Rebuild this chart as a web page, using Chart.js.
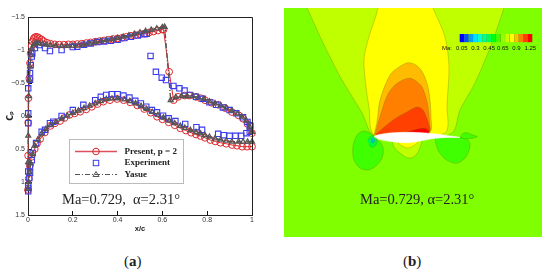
<!DOCTYPE html>
<html><head><meta charset="utf-8">
<script src="https://cdn.jsdelivr.net/npm/chart.js@4/dist/chart.umd.min.js"></script>
<style>
html,body{margin:0;padding:0;background:#fff;width:550px;height:276px;overflow:hidden}
canvas{position:absolute;display:block;filter:blur(.35px)}
.t{position:absolute;white-space:pre;font-family:"Liberation Serif",serif;color:#222;line-height:1}
</style></head><body>
<canvas id="cp" width="275" height="233" style="left:0;top:0;width:275px;height:233px"></canvas>
<canvas id="field" width="258" height="229" style="left:284px;top:8px;width:258px;height:229px;background:#80ff00"></canvas>
<canvas id="bar" width="100" height="28" style="left:440px;top:30px;width:100px;height:28px"></canvas>
<div class="t" style="left:62px;top:192px;font-size:14.5px">Ma=0.729,  α=2.31°</div>
<div class="t" style="left:360px;top:192px;font-size:14.5px">Ma=0.729, α=2.31°</div>
<div class="t" style="left:124px;top:254px;font-size:15px">(<b>a</b>)</div>
<div class="t" style="left:403px;top:254px;font-size:15px">(<b>b</b>)</div>
<div class="t" style="left:442px;top:45px;font:6px 'Liberation Sans',sans-serif;color:#111">Ma:</div>
<script>
// Cp distribution, pairs of x/c and Cp (lower surface TE -> LE -> upper surface TE)
const presentPts = [[1,.465],[.978,.465],[.956,.465],[.933,.45],[.911,.44],[.885,.42],[.859,.405],[.836,.385],[.814,.364],[.79,.33],[.77,.303],[.75,.28],[.728,.253],[.705,.22],[.68,.186],[.655,.14],[.628,.095],[.6,.05],[.576,.011],[.548,-.05],[.519,-.106],[.488,-.16],[.456,-.208],[.427,-.24],[.397,-.258],[.366,-.24],[.336,-.217],[.31,-.18],[.285,-.14],[.26,-.1],[.233,-.065],[.208,-.04],[.185,-.015],[.163,.03],[.143,.076],[.12,.11],[.1,.15],[.075,.25],[.054,.35],[.04,.42],[.03,.5],[.015,.62],[.008,.75],[.003,.95],[0,1.12],
[.0005,.6],[.001,.1],[.002,-.27],[.006,-.57],[.009,-.8],[.012,-.95],[.016,-1.06],[.02,-1.13],[.025,-1.17],[.03,-1.19],[.036,-1.2],[.043,-1.195],[.05,-1.18],[.06,-1.16],[.07,-1.135],[.085,-1.11],[.1,-1.095],[.12,-1.085],[.14,-1.08],[.16,-1.08],[.18,-1.085],[.2,-1.085],[.22,-1.09],[.24,-1.095],[.26,-1.105],[.28,-1.115],[.3,-1.125],[.32,-1.135],[.34,-1.145],[.36,-1.155],[.38,-1.165],[.4,-1.175],[.42,-1.185],[.44,-1.2],[.46,-1.215],[.48,-1.225],[.5,-1.24],[.52,-1.25],[.54,-1.265],[.56,-1.28],[.58,-1.295],[.6,-1.31],[.605,-1.31],[.63,-.67],[.65,-.24],[.67,-.29],[.7,-.31],[.72,-.31],[.75,-.29],[.77,-.27],[.79,-.24],[.82,-.2],[.85,-.17],[.88,-.12],[.91,-.06],[.94,-.01],[.96,.04],[.98,.12],[1,.26]];
const experimentPts = [[.993,.15],[.99,.24],[.975,.26],[.952,.3],[.926,.3],[.9,.3],[.874,.29],[.849,.27],[.777,.21],[.752,.17],[.702,.12],[.658,.076],[.628,.035],[.603,-.005],[.576,-.056],[.553,-.09],[.528,-.14],[.504,-.19],[.479,-.23],[.453,-.28],[.426,-.31],[.4,-.33],[.374,-.33],[.349,-.32],[.325,-.29],[.3,-.24],[.247,-.17],[.2,-.09],[.15,0],[.113,.086],[.098,.11],[.076,.21],[.061,.24],[.036,.41],[.021,.56],[.017,.67],[.009,.77],[.009,.86],[.006,.94],[.001,1.05],[.001,1.09],[.001,1.14],
[.001,.84],[.001,.11],[.001,-.04],[.001,-.42],[.009,-.55],[.009,-.65],[.012,-.77],[.017,-.9],[.019,-.95],[.031,-1.03],[.05,-1.075],[.076,-1.03],[.098,-.985],[.15,-1],[.2,-1.045],[.22,-1.05],[.25,-1.08],[.28,-1.1],[.31,-1.12],[.34,-1.13],[.37,-1.14],[.4,-1.155],[.43,-1.18],[.46,-1.2],[.49,-1.22],[.52,-1.24],[.53,-1.245],[.547,-.91],[.571,-.67],[.597,-.58],[.616,-.545],[.649,-.455],[.676,-.42],[.699,-.385],[.724,-.32],[.75,-.29],[.78,-.26],[.81,-.21],[.84,-.17],[.87,-.13],[.9,-.09],[.93,-.04],[.96,.02],[.98,.09],[.99,.14]];
const yasuePts = [[1,.39],[.98,.39],[.96,.39],[.94,.39],[.91,.39],[.885,.375],[.86,.36],[.835,.34],[.81,.315],[.79,.29],[.77,.265],[.75,.245],[.725,.215],[.7,.18],[.68,.15],[.655,.11],[.63,.07],[.605,.025],[.58,-.015],[.555,-.06],[.53,-.105],[.505,-.15],[.48,-.19],[.455,-.225],[.43,-.25],[.4,-.265],[.375,-.265],[.35,-.255],[.325,-.225],[.3,-.19],[.275,-.155],[.25,-.12],[.225,-.08],[.2,-.045],[.175,-.005],[.15,.04],[.125,.09],[.1,.14],[.08,.2],[.06,.27],[.045,.36],[.03,.45],[.02,.58],[.012,.72],[.007,.85],[.003,1],[0,1.1],
[.0005,.7],[.001,.3],[.002,0],[.003,-.3],[.006,-.55],[.009,-.75],[.013,-.92],[.018,-1.02],[.024,-1.07],[.03,-1.09],[.04,-1.105],[.05,-1.1],[.065,-1.09],[.08,-1.08],[.1,-1.075],[.125,-1.065],[.15,-1.06],[.175,-1.06],[.2,-1.065],[.225,-1.07],[.25,-1.08],[.275,-1.1],[.3,-1.12],[.325,-1.135],[.35,-1.15],[.375,-1.165],[.4,-1.18],[.425,-1.2],[.45,-1.22],[.475,-1.245],[.5,-1.265],[.525,-1.285],[.55,-1.305],[.575,-1.325],[.6,-1.345],[.61,-1.35],[.637,-.24],[.66,-.285],[.685,-.3],[.71,-.3],[.735,-.3],[.76,-.28],[.785,-.26],[.81,-.22],[.835,-.19],[.86,-.16],[.885,-.125],[.91,-.08],[.935,-.035],[.955,.01],[.975,.07],[.99,.17],[1,.24]];
const xTickLabels = [0,0.2,0.4,0.6,0.8,1];
const yTickLabels = ['\u22121.5','\u22121','\u22120.5','0','0.5','1','1.5'];
const legendLabels = ['Present, p = 2','Experiment','Yasue'];

// Mach contours, outlines, in field units with the leading edge at the origin
const limeOuter = [[-70,135],[-67,129],[-49,90],[-32,57],[-12,24],[0,1],[40,-3],[78,4],[86,27],[101,54],[118,94],[130,129],[132,135]];
const yellowTop = [[2,135],[4,129],[-6,97],[-10,77],[-8,50],[-5,30],[0,2],[40,-3],[71,4],[74,12],[73,30],[75,70],[71,100],[59,129],[57,135]];
const goldTop = [[0,2],[3,15],[6,37],[16,62],[25,70],[34,74.3],[42,72],[49,64],[54,50],[56,37],[57,20],[56,5],[30,-2]];
const orangeTop = [[1,3],[9,30],[14,43],[21,52],[29,57],[36,58.7],[42,56],[48,50],[52,39],[54,30],[55.5,15],[55.3,5],[30,-2]];
const redOrangeTop = [[1,2],[19,17],[33,25],[43,30],[49,27],[54,15],[55,5],[30,-2]];
const redTop = [[25,3],[40,7],[49,8.7],[54,7],[55,3],[40,1]];
const limeBelow = [[18,-3],[20,-10],[26,-16],[34,-21],[41,-19],[46,-11],[48,-3]];
const yellowBelow = [[22,-4],[28,-9],[34,-11],[41,-8],[46,-3]];
const greenLeft = [[1,0],[-4,4],[-10,6],[-16,3],[-20,-5],[-21.3,-13],[-20,-23],[-14,-31],[-6,-33],[2,-29],[8,-21],[9.3,-13],[7,-6],[2,-2]];
const greenInner = [[-6.3,-3],[-4,0],[-1.7,1.3],[1.5,0],[3,-4.7],[1.5,-8.5],[-1.7,-10.3],[-5,-8]];
const cyanCore = [[-3.5,-3],[-1.5,-1],[.5,-2],[1,-4],[-1,-6],[-3,-5]];
const greenRight = [[61,-1],[62,-7],[64,-13],[70,-21],[76,-24.7],[83,-26.3],[90,-22],[94,-16],[96,-8],[93,-2],[85,-.5],[72,-.5]];
const greenTail = [[87,2],[90,4],[93,4.3],[97,2.5],[103.3,.3],[96,-1.5],[90,-1.5],[86,0]];
const airfoil = [[0,0],[2,1.5],[6,2.5],[16,4],[34,4.7],[51,4],[66,2.5],[76,1],[86,-.5],[71,-.5],[56,-2],[46,-4],[34,-5.7],[21,-5],[11,-3.5],[4,-2]];

// colour legend
const levelColors = ['#0000ff','#0050ff','#00a0ff','#00e0ff','#00ffd0','#00ff90','#00ff50','#00ff10','#40ff00','#90ff00','#d0ff00','#ffff00','#ffc000','#ff8000','#ff4000','#ff0000'];
const levelLabels = ['0.05','','','0.3','','','0.45','','','0.65','','','0.9','','','1.25'];
const levelHeights = levelColors.map(()=>1);

const toXY = a => a.map(p=>({x:p[0],y:p[1]}));
const RED='#e0262c', BLUE='#3a3aee', GRAY='#555';

const cpLegend = {
  id:'cpLegend',
  afterDraw(c){
    const a=c.chartArea, x=c.ctx, L=69.5,T=139.5,W=114,H=44;
    x.save();
    x.strokeStyle='#222';x.lineWidth=1;x.beginPath();x.moveTo(a.left,a.top+.5);x.lineTo(a.right+.5,a.top+.5);x.lineTo(a.right+.5,a.bottom);x.stroke();
    x.fillStyle='#fff';x.fillRect(L,T,W,H);
    x.strokeStyle='#bbb';x.lineWidth=1;x.strokeRect(L,T,W,H);
    const rows=[151.5,163,174.5];
    x.strokeStyle='#e0505a';x.lineWidth=1.5;
    x.beginPath();x.moveTo(75,rows[0]);x.lineTo(117,rows[0]);x.stroke();
    x.strokeStyle=RED;x.lineWidth=1;x.beginPath();x.arc(96,rows[0],3.3,0,7);x.stroke();
    x.strokeStyle=BLUE;x.strokeRect(93.3,rows[1]-2.7,5.4,5.4);
    x.strokeStyle=GRAY;x.setLineDash([5,2,1,2]);
    x.beginPath();x.moveTo(75,rows[2]);x.lineTo(117,rows[2]);x.stroke();
    x.setLineDash([]);
    x.beginPath();x.moveTo(96,rows[2]-3);x.lineTo(99,rows[2]+2);x.lineTo(93,rows[2]+2);x.closePath();x.stroke();
    x.fillStyle='#222';x.font='bold 9px "Liberation Serif",serif';x.textBaseline='middle';
    legendLabels.forEach((t,i)=>x.fillText(t,124.5,rows[i]));
    x.restore();
  }
};

new Chart(document.getElementById('cp'),{
  type:'scatter',
  plugins:[cpLegend],
  data:{datasets:[
    {label:legendLabels[2],data:toXY(yasuePts),showLine:true,order:1,clip:false,borderColor:GRAY,borderWidth:1.4,borderDash:[5,2,1,2],pointStyle:'triangle',pointRadius:2.8,pointBorderColor:GRAY,pointBackgroundColor:'rgba(0,0,0,0)',pointBorderWidth:1.3},
    {label:legendLabels[1],data:toXY(experimentPts),showLine:false,order:2,clip:false,pointStyle:'rect',pointRadius:3.8,pointBorderColor:BLUE,pointBackgroundColor:'rgba(0,0,0,0)',pointBorderWidth:1.1},
    {label:legendLabels[0],data:toXY(presentPts),showLine:true,order:3,clip:false,borderColor:RED,borderWidth:1,pointStyle:'circle',pointRadius:3.4,pointBorderColor:RED,pointBackgroundColor:'rgba(0,0,0,0)',pointBorderWidth:1}
  ]},
  options:{
    responsive:false,animation:false,
    layout:{padding:{left:6,top:17,right:23,bottom:0}},
    plugins:{legend:{display:false},tooltip:{enabled:false}},
    scales:{
      x:{type:'linear',min:0,max:1,
        afterBuildTicks(s){s.ticks=xTickLabels.map(v=>({value:v}));},
        afterFit(s){s.height=18;},
        grid:{drawOnChartArea:false,drawTicks:true,tickLength:-4,color:'#111',lineWidth:1},
        border:{display:true,color:'#222',width:1},
        ticks:{padding:5,maxRotation:0,autoSkip:false,color:'#333',font:{family:'"Liberation Sans",sans-serif',size:7},callback:v=>String(v)},
        title:{display:true,text:'x/c',color:'#222',padding:0,font:{family:'"Liberation Sans",sans-serif',size:7.5,weight:'bold'}}
      },
      y:{type:'linear',min:-1.5,max:1.5,reverse:true,
        afterBuildTicks(s){s.ticks=yTickLabels.map((l,i)=>({value:-1.5+i*.5,label:l}));},
        afterFit(s){s.width=22;},
        grid:{drawOnChartArea:false,drawTicks:true,tickLength:-4,color:'#111',lineWidth:1},
        border:{display:true,color:'#222',width:1},
        ticks:{padding:7,autoSkip:false,color:'#333',font:{family:'"Liberation Sans",sans-serif',size:7},callback:(v,i)=>yTickLabels[i]},
        title:{display:true,text:'C\u209A',color:'#222',padding:0,font:{family:'"DejaVu Sans",sans-serif',size:8,weight:'bold'}}
      }
    }
  }
});

const layers=[
  [limeOuter,'#bfff00'],[yellowTop,'#ffff00'],[goldTop,'#ffbb00'],[orangeTop,'#ff8000'],[redOrangeTop,'#ff4000'],[redTop,'#ff0000'],
  [limeBelow,'#bfff00'],[yellowBelow,'#ffff00'],[greenLeft,'#40ff00'],[greenInner,'#00ff40'],[cyanCore,'#00c8d0'],[greenRight,'#40ff00'],[greenTail,'#40ff00'],[airfoil,'#ffffff']
];
new Chart(document.getElementById('field'),{
  type:'scatter',
  data:{datasets:layers.map((l,i)=>({
    data:toXY(l[0]),showLine:true,fill:'shape',tension:.3,order:layers.length-i,
    backgroundColor:l[1],borderColor:l[1]==='#ffffff'?'#ffffff':'rgba(90,100,0,.45)',borderWidth:.6,pointRadius:0
  }))},
  options:{responsive:false,animation:false,layout:{padding:0},
    plugins:{legend:{display:false},tooltip:{enabled:false}},
    scales:{x:{type:'linear',display:false,min:-90,max:168},y:{type:'linear',display:false,min:-100,max:129}}}
});

new Chart(document.getElementById('bar'),{
  type:'bar',
  data:{labels:levelLabels,datasets:[{data:levelHeights,backgroundColor:levelColors,borderColor:'rgba(40,40,40,.35)',borderWidth:.4,barPercentage:1,categoryPercentage:1}]},
  options:{responsive:false,animation:false,layout:{padding:{left:19.5,right:7.5,top:4,bottom:0}},
    plugins:{legend:{display:false},tooltip:{enabled:false}},
    scales:{
      x:{afterFit(s){s.height=15.5;},grid:{display:false,drawTicks:false},border:{display:false},
        ticks:{autoSkip:false,maxRotation:0,padding:2,color:'#111',font:{family:'"Liberation Sans",sans-serif',size:6}}},
      y:{display:false,min:0,max:1}
    }}
});
</script>
</body></html>
